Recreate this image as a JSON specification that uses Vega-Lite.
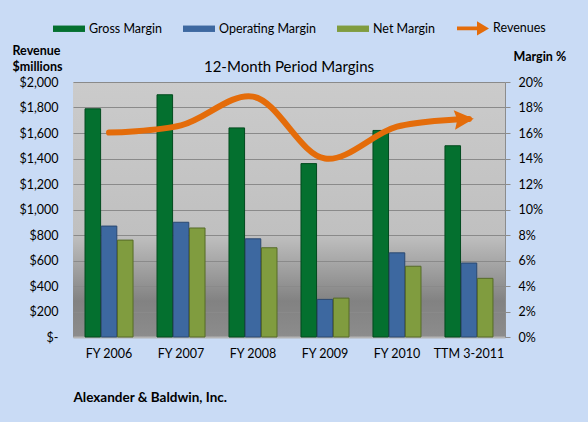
{
  "$schema": "https://vega.github.io/schema/vega-lite/v6.json",
  "width": 432,
  "height": 255,
  "autosize": {"type": "none"},
  "padding": {"left": 73, "top": 82, "right": 83, "bottom": 85},
  "background": "#c9dbf5",
  "config": {
    "font": "Lato",
    "view": {
      "stroke": null,
      "fill": {
        "gradient": "linear",
        "x1": 0, "y1": 0, "x2": 0, "y2": 1,
        "stops": [
          {"offset": 0, "color": "#cbcbcb"},
          {"offset": 0.6, "color": "#c0c0c0"},
          {"offset": 0.86, "color": "#828282"},
          {"offset": 1, "color": "#8c8c8c"}
        ]
      }
    }
  },
  "title": {
    "text": "12-Month Period Margins",
    "fontSize": 15,
    "fontWeight": "normal",
    "color": "#000000",
    "anchor": "middle",
    "offset": 6,
    "dy": 69
  },
  "datasets": {
    "margins": [
      {"period": "FY 2006", "series": "Gross Margin", "margin": 17.9},
      {"period": "FY 2006", "series": "Operating Margin", "margin": 8.7},
      {"period": "FY 2006", "series": "Net Margin", "margin": 7.6},
      {"period": "FY 2007", "series": "Gross Margin", "margin": 19.0},
      {"period": "FY 2007", "series": "Operating Margin", "margin": 9.0},
      {"period": "FY 2007", "series": "Net Margin", "margin": 8.55},
      {"period": "FY 2008", "series": "Gross Margin", "margin": 16.4},
      {"period": "FY 2008", "series": "Operating Margin", "margin": 7.7},
      {"period": "FY 2008", "series": "Net Margin", "margin": 7.0},
      {"period": "FY 2009", "series": "Gross Margin", "margin": 13.6},
      {"period": "FY 2009", "series": "Operating Margin", "margin": 2.95},
      {"period": "FY 2009", "series": "Net Margin", "margin": 3.05},
      {"period": "FY 2010", "series": "Gross Margin", "margin": 16.2},
      {"period": "FY 2010", "series": "Operating Margin", "margin": 6.6},
      {"period": "FY 2010", "series": "Net Margin", "margin": 5.55},
      {"period": "TTM 3-2011", "series": "Gross Margin", "margin": 15.0},
      {"period": "TTM 3-2011", "series": "Operating Margin", "margin": 5.8},
      {"period": "TTM 3-2011", "series": "Net Margin", "margin": 4.6}
    ],
    "revenues": [
      {"period": "FY 2006", "revenue": 1603},
      {"period": "FY 2007", "revenue": 1660},
      {"period": "FY 2008", "revenue": 1885},
      {"period": "FY 2009", "revenue": 1400},
      {"period": "FY 2010", "revenue": 1650},
      {"period": "TTM 3-2011", "revenue": 1710}
    ]
  },
  "layer": [
    {
      "data": {"name": "margins"},
      "mark": {"type": "bar", "strokeWidth": 1},
      "encoding": {
        "x": {
          "field": "period",
          "type": "nominal",
          "sort": ["FY 2006", "FY 2007", "FY 2008", "FY 2009", "FY 2010", "TTM 3-2011"],
          "scale": {"paddingInner": 0.333, "paddingOuter": 0.167},
          "axis": {
            "labelAngle": 0,
            "labelFontSize": 12.5,
            "labelColor": "#000000",
            "labelPadding": 10,
            "ticks": false,
            "tickSize": 0,
            "domain": true,
            "domainColor": "#b4b4b4",
            "domainWidth": 2,
            "title": "Alexander & Baldwin, Inc.",
            "titleFontSize": 13.5,
            "titleFontWeight": "bold",
            "titleColor": "#000000",
            "titleAnchor": "start",
            "titleAlign": "left",
            "titleBaseline": "middle",
            "titleX": 0,
            "titleY": 60
          }
        },
        "xOffset": {
          "field": "series",
          "sort": ["Gross Margin", "Operating Margin", "Net Margin"],
          "scale": {"paddingInner": 0.04}
        },
        "y": {
          "field": "margin",
          "type": "quantitative",
          "scale": {"domain": [0, 20]},
          "axis": {
            "orient": "right",
            "values": [0, 2, 4, 6, 8, 10, 12, 14, 16, 18, 20],
            "labelExpr": "datum.value + '%'",
            "grid": false,
            "domain": true,
            "domainColor": "#8c8c8c",
            "ticks": true,
            "tickSize": 5,
            "tickColor": "#8c8c8c",
            "labelPadding": 8,
            "labelFontSize": 12.5,
            "labelColor": "#000000",
            "title": "Margin %",
            "titleAngle": 0,
            "titleFontSize": 12.5,
            "titleFontWeight": "bold",
            "titleColor": "#000000",
            "titleAlign": "left",
            "titleBaseline": "alphabetic",
            "titleX": 8,
            "titleY": -22
          }
        },
        "color": {
          "field": "series",
          "type": "nominal",
          "scale": {
            "domain": ["Gross Margin", "Operating Margin", "Net Margin", "Revenues"],
            "range": ["#04702f", "#3d68a0", "#809c3f", "#e46c0a"]
          },
          "legend": {
            "orient": "none",
            "legendX": -20,
            "legendY": -70,
            "direction": "horizontal",
            "title": null,
            "symbolType": "M-1,-0.22H1V0.22H-1Z",
            "symbolSize": 1024,
            "symbolStrokeWidth": 0,
            "labelFontSize": 12.5,
            "labelColor": "#000000",
            "labelOffset": 4,
            "columnPadding": 21,
            "encode": {
              "symbols": {
                "update": {
                  "shape": {"signal": "datum.value === 'Revenues' ? 'M-1,-0.12H0.25V-0.45L1,0L0.25,0.45V0.12H-1Z' : 'M-1,-0.2H1V0.2H-1Z'"},
                  "fill": {"scale": "color", "field": "value"},
                  "opacity": {"value": 1},
                  "strokeWidth": {"value": 0}
                }
              }
            }
          }
        },
        "stroke": {
          "field": "series",
          "type": "nominal",
          "scale": {
            "domain": ["Gross Margin", "Operating Margin", "Net Margin"],
            "range": ["#024a1e", "#2a4870", "#566b28"]
          },
          "legend": null
        }
      }
    },
    {
      "data": {"name": "revenues"},
      "encoding": {
        "x": {"field": "period", "type": "nominal", "sort": ["FY 2006", "FY 2007", "FY 2008", "FY 2009", "FY 2010", "TTM 3-2011"]},
        "y": {
          "field": "revenue",
          "type": "quantitative",
          "scale": {"domain": [0, 2000]},
          "axis": {
            "orient": "left",
            "values": [0, 200, 400, 600, 800, 1000, 1200, 1400, 1600, 1800, 2000],
            "labelExpr": "datum.value === 0 ? '$-' : '$' + format(datum.value, ',')",
            "grid": true,
            "gridColor": "#8a8a8a",
            "gridWidth": 1,
            "domain": false,
            "ticks": false,
            "tickSize": 0,
            "labelPadding": 15,
            "labelFontSize": 12.5,
            "labelColor": "#000000",
            "title": ["Revenue", "$millions"],
            "titleAngle": 0,
            "titleFontSize": 12.5,
            "titleFontWeight": "bold",
            "titleColor": "#000000",
            "titleAlign": "left",
            "titleBaseline": "alphabetic",
            "titleLineHeight": 16,
            "titleX": -61,
            "titleY": -28
          }
        },
        "color": {"datum": "Revenues", "type": "nominal"}
      },
      "layer": [
        {
          "mark": {"type": "line", "interpolate": "catmull-rom", "strokeWidth": 6, "strokeCap": "round"}
        },
        {
          "transform": [{"filter": "datum.period === 'TTM 3-2011'"}],
          "mark": {
            "type": "point",
            "filled": true,
            "opacity": 1,
            "size": 380,
            "angle": -4,
            "shape": "M0.5,0L-1.5,-1L-1.2,0L-1.5,1Z"
          }
        }
      ]
    }
  ],
  "resolve": {"scale": {"y": "independent"}}
}
